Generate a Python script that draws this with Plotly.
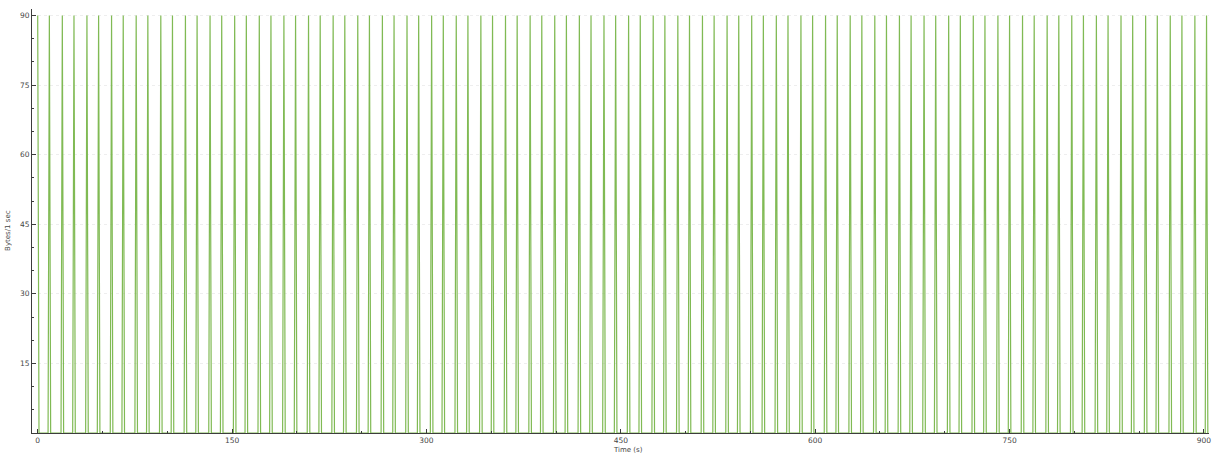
import plotly.graph_objects as go

# I/O graph: bytes per 1-second interval
spike_times = [
    0, 9, 19, 28, 38, 47, 57, 66, 76, 85, 95, 104, 114, 123, 133, 142, 152, 161,
    171, 180, 190, 199, 209, 218, 228, 237, 247, 256, 266, 275, 285, 294, 304,
    313, 323, 332, 342, 351, 361, 370, 380, 389, 399, 408, 418, 427, 437, 446,
    456, 465, 475, 484, 494, 503, 513, 522, 532, 541, 551, 560, 570, 579, 589,
    598, 608, 617, 627, 636, 646, 655, 665, 674, 684, 693, 703, 712, 722, 731,
    741, 750, 760, 769, 779, 788, 798, 807, 817, 826, 836, 845, 855, 864, 874,
    883, 893, 902,
]
spike_bytes = 90
last_second = 903

x_ticks = [0, 150, 300, 450, 600, 750, 900]
y_ticks = [15, 30, 45, 60, 75, 90]

# per-second series: zero except where a packet burst occurred
seconds = list(range(0, last_second + 1))
spike_set = set(spike_times)
bytes_per_sec = [spike_bytes if s in spike_set else 0 for s in seconds]

fig = go.Figure()
fig.add_trace(go.Scatter(
    x=seconds, y=bytes_per_sec, mode="lines",
    line=dict(color="rgb(128,186,84)", width=1.2),
    hoverinfo="skip", showlegend=False,
))

tick_font = dict(family="DejaVu Sans, Arial, sans-serif", size=7.5, color="rgb(70,70,70)")

fig.update_layout(
    width=1213, height=455,
    margin=dict(l=32, r=2, t=9, b=22),
    paper_bgcolor="white", plot_bgcolor="white",
    xaxis=dict(
        range=[-4.4, 903.9], tickmode="array", tickvals=x_ticks,
        ticks="inside", ticklen=4, tickcolor="rgb(60,60,60)", tickwidth=1,
        minor=dict(tickmode="linear", tick0=0, dtick=50, ticks="inside",
                   ticklen=2, tickcolor="rgb(60,60,60)"),
        showline=True, linecolor="rgb(60,60,60)", linewidth=1,
        showgrid=False, zeroline=False, tickfont=tick_font,
        ticklabeloverflow="allow",
    ),
    yaxis=dict(
        range=[0, 91.4], tickmode="array", tickvals=y_ticks,
        ticks="inside", ticklen=4, tickcolor="rgb(60,60,60)", tickwidth=1,
        minor=dict(tickmode="linear", tick0=0, dtick=5, ticks="inside",
                   ticklen=2, tickcolor="rgb(60,60,60)"),
        showline=True, linecolor="rgb(60,60,60)", linewidth=1,
        showgrid=True, gridcolor="rgb(238,238,238)", gridwidth=1, griddash="dot",
        zeroline=False, tickfont=tick_font,
    ),
    annotations=[
        dict(text="Time (s)", xref="paper", yref="paper", x=0.5064, y=-0.04,
             showarrow=False, xanchor="center", yanchor="middle",
             font=dict(family="DejaVu Sans, Arial, sans-serif", size=7, color="rgb(70,70,70)")),
        dict(text="Bytes/1 sec", xref="paper", yref="paper", x=-0.0204, y=0.479,
             showarrow=False, xanchor="center", yanchor="middle", textangle=-90,
             font=dict(family="DejaVu Sans, Arial, sans-serif", size=7, color="rgb(70,70,70)")),
    ],
)

fig.write_html("out.html")
